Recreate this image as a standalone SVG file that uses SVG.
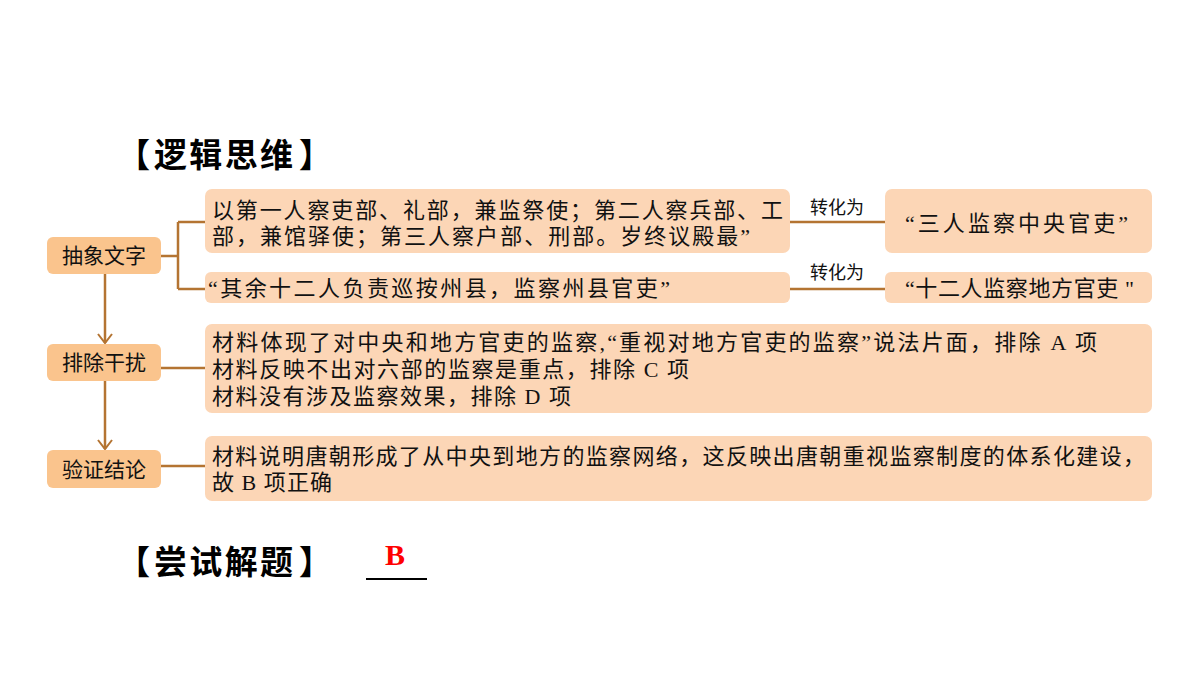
<svg xmlns="http://www.w3.org/2000/svg" width="1200" height="676" viewBox="0 0 1200 676">
<style>
.head{font-family:"Noto Sans CJK SC","Liberation Sans",sans-serif;font-weight:bold;font-size:33px;fill:#000}
.key{fill:#FAC48D}
.box{fill:#FCD6B6}
.kt{font-family:"Noto Sans CJK SC","Liberation Sans",sans-serif;font-size:21px;fill:#111;text-anchor:middle}
.bt{font-family:"Liberation Serif","Noto Sans CJK SC",serif;font-size:22px;fill:#111}
.lab{font-family:"Noto Sans CJK SC","Liberation Sans",sans-serif;font-size:18px;fill:#111;text-anchor:middle}
.ln{stroke:#B47432;stroke-width:2.5;fill:none}
</style>
<defs>
<marker id="arr" markerWidth="12" markerHeight="16" refX="10" refY="8" orient="auto" markerUnits="userSpaceOnUse" viewBox="0 0 12 16">
<path d="M1,1 L10,8 L1,15" fill="none" stroke="#B47432" stroke-width="2"/>
</marker>
</defs>
<g id="title1">
<text class="head" x="117" y="167">【</text>
<text class="head" x="154" y="167" textLength="139" lengthAdjust="spacing">逻辑思维</text>
<text class="head" x="299" y="167">】</text>
</g>
<g id="connectors">
<path class="ln" d="M105,274 V343" marker-end="url(#arr)"/>
<path class="ln" d="M105,381 V449" marker-end="url(#arr)"/>
<path class="ln" d="M161,256 H178 M178,222 V289 M178,222 H205 M178,289 H205"/>
<path class="ln" d="M790,222 H885"/>
<path class="ln" d="M790,289 H885"/>
<path class="ln" d="M161,368 H205"/>
<path class="ln" d="M161,466 H205"/>
<text class="lab" x="837" y="214">转化为</text>
<text class="lab" x="837" y="279">转化为</text>
</g>
<g id="n1"><rect class="key" x="47" y="237" width="114" height="37" rx="6"/><text class="kt" x="104" y="263">抽象文字</text></g>
<g id="n2"><rect class="key" x="47" y="344" width="114" height="37" rx="6"/><text class="kt" x="104" y="370">排除干扰</text></g>
<g id="n3"><rect class="key" x="47" y="450" width="114" height="38" rx="6"/><text class="kt" x="104" y="477">验证结论</text></g>
<g id="b1"><rect class="box" x="205" y="189" width="585" height="64" rx="7"/>
<text class="bt" x="212" y="218" textLength="571" lengthAdjust="spacing">以第一人察吏部、礼部，兼监祭使；第二人察兵部、工</text>
<text class="bt" x="212" y="244" textLength="538" lengthAdjust="spacing">部，兼馆驿使；第三人察户部、刑部。岁终议殿最”</text></g>
<g id="b2"><rect class="box" x="205" y="272" width="585" height="31" rx="6"/>
<text class="bt" x="208" y="296" textLength="462" lengthAdjust="spacing">“其余十二人负责巡按州县，监察州县官吏”</text></g>
<g id="b3"><rect class="box" x="885" y="189" width="267" height="64" rx="7"/>
<text class="bt" x="905" y="231" textLength="223" lengthAdjust="spacing">“三人监察中央官吏”</text></g>
<g id="b4"><rect class="box" x="885" y="272" width="267" height="31" rx="6"/>
<text class="bt" x="905" y="296" textLength="229" lengthAdjust="spacing">“十二人监察地方官吏 "</text></g>
<g id="b5"><rect class="box" x="205" y="324" width="947" height="89" rx="7"/>
<text class="bt" x="212" y="350" textLength="885" lengthAdjust="spacing">材料体现了对中央和地方官吏的监察,“重视对地方官吏的监察”说法片面，排除 A 项</text>
<text class="bt" x="212" y="377" textLength="477" lengthAdjust="spacing">材料反映不出对六部的监察是重点，排除 C 项</text>
<text class="bt" x="212" y="404" textLength="359" lengthAdjust="spacing">材料没有涉及监察效果，排除 D 项</text></g>
<g id="b6"><rect class="box" x="205" y="436" width="947" height="65" rx="7"/>
<text class="bt" x="212" y="464" textLength="933" lengthAdjust="spacing">材料说明唐朝形成了从中央到地方的监察网络，这反映出唐朝重视监察制度的体系化建设，</text>
<text class="bt" x="212" y="490" textLength="120" lengthAdjust="spacing">故 B 项正确</text></g>
<g id="title2">
<text class="head" x="117" y="574">【</text>
<text class="head" x="154" y="574" textLength="139" lengthAdjust="spacing">尝试解题</text>
<text class="head" x="299" y="574">】</text>
</g>
<text x="395" y="565" font-family="Liberation Serif, serif" font-weight="bold" font-size="30" fill="#FF0000" text-anchor="middle">B</text>
<line x1="366" y1="579" x2="427" y2="579" stroke="#000" stroke-width="2"/>
</svg>
